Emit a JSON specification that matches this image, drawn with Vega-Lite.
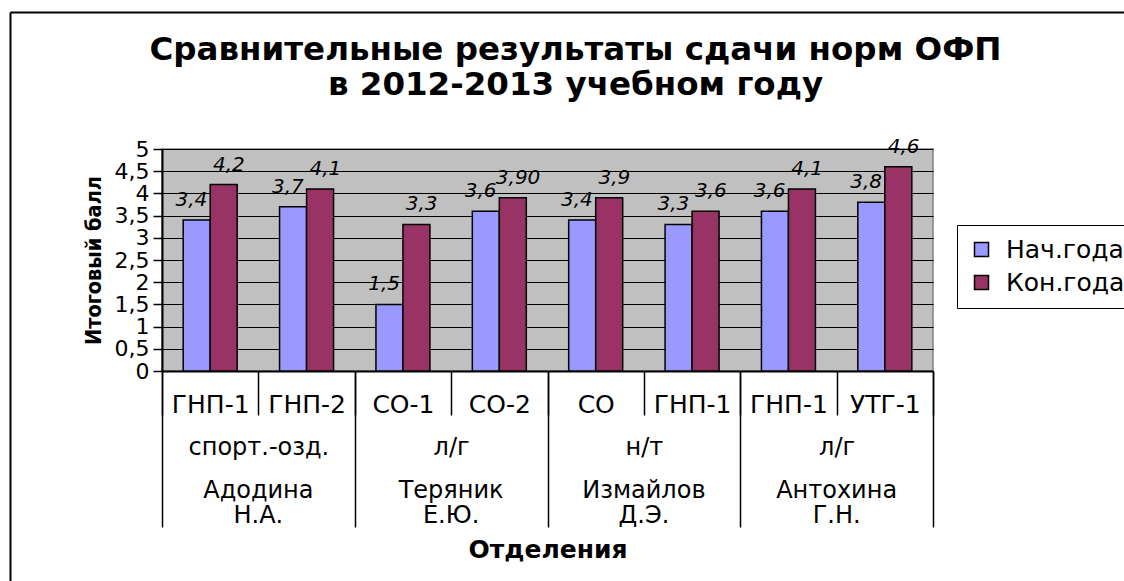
{
  "$schema": "https://vega.github.io/schema/vega-lite/v6.json",
  "usermeta": {"embedOptions": {"actions": false}},
  "width": 771,
  "height": 222,
  "autosize": "none",
  "padding": {"left": 162, "top": 149, "right": 191, "bottom": 210},
  "background": "white",
  "config": {
    "view": {"fill": "#C0C0C0", "stroke": "#808080", "strokeWidth": 1.5}
  },
  "title": {
    "text": ["Сравнительные результаты сдачи норм ОФП", "в 2012-2013 учебном году"],
    "font": "DejaVu Sans",
    "fontSize": 32.5,
    "fontWeight": "bold",
    "color": "black",
    "anchor": "middle",
    "dx": 28,
    "dy": 93,
    "lineHeight": 35
  },
  "data": {
    "values": [
      {"cat": "Адодина|ГНП-1", "dept": "1|спорт.-озд.", "teacher": "Адодина|Н.А.", "series": "Нач.года", "value": 3.4, "label": "3,4"},
      {"cat": "Адодина|ГНП-1", "dept": "1|спорт.-озд.", "teacher": "Адодина|Н.А.", "series": "Кон.года", "value": 4.2, "label": "4,2"},
      {"cat": "Адодина|ГНП-2", "dept": "1|спорт.-озд.", "teacher": "Адодина|Н.А.", "series": "Нач.года", "value": 3.7, "label": "3,7"},
      {"cat": "Адодина|ГНП-2", "dept": "1|спорт.-озд.", "teacher": "Адодина|Н.А.", "series": "Кон.года", "value": 4.1, "label": "4,1"},
      {"cat": "Теряник|СО-1", "dept": "2|л/г", "teacher": "Теряник|Е.Ю.", "series": "Нач.года", "value": 1.5, "label": "1,5"},
      {"cat": "Теряник|СО-1", "dept": "2|л/г", "teacher": "Теряник|Е.Ю.", "series": "Кон.года", "value": 3.3, "label": "3,3"},
      {"cat": "Теряник|СО-2", "dept": "2|л/г", "teacher": "Теряник|Е.Ю.", "series": "Нач.года", "value": 3.6, "label": "3,6"},
      {"cat": "Теряник|СО-2", "dept": "2|л/г", "teacher": "Теряник|Е.Ю.", "series": "Кон.года", "value": 3.9, "label": "3,90"},
      {"cat": "Измайлов|СО", "dept": "3|н/т", "teacher": "Измайлов|Д.Э.", "series": "Нач.года", "value": 3.4, "label": "3,4"},
      {"cat": "Измайлов|СО", "dept": "3|н/т", "teacher": "Измайлов|Д.Э.", "series": "Кон.года", "value": 3.9, "label": "3,9"},
      {"cat": "Измайлов|ГНП-1", "dept": "3|н/т", "teacher": "Измайлов|Д.Э.", "series": "Нач.года", "value": 3.3, "label": "3,3"},
      {"cat": "Измайлов|ГНП-1", "dept": "3|н/т", "teacher": "Измайлов|Д.Э.", "series": "Кон.года", "value": 3.6, "label": "3,6"},
      {"cat": "Антохина|ГНП-1", "dept": "4|л/г", "teacher": "Антохина|Г.Н.", "series": "Нач.года", "value": 3.6, "label": "3,6"},
      {"cat": "Антохина|ГНП-1", "dept": "4|л/г", "teacher": "Антохина|Г.Н.", "series": "Кон.года", "value": 4.1, "label": "4,1"},
      {"cat": "Антохина|УТГ-1", "dept": "4|л/г", "teacher": "Антохина|Г.Н.", "series": "Нач.года", "value": 3.8, "label": "3,8"},
      {"cat": "Антохина|УТГ-1", "dept": "4|л/г", "teacher": "Антохина|Г.Н.", "series": "Кон.года", "value": 4.6, "label": "4,6"}
    ]
  },
  "layer": [
    {
      "mark": {"type": "bar", "stroke": "black", "strokeWidth": 1.5},
      "encoding": {
        "x": {
          "field": "cat", "type": "nominal", "sort": null,
          "scale": {"type": "band", "paddingInner": 0, "paddingOuter": 0},
          "axis": {
            "orient": "bottom",
            "title": null,
            "labelExpr": "datum.value ? split(datum.value, '|')[1] : ''",
            "labelFont": "DejaVu Sans",
            "labelFontSize": 25,
            "labelColor": "black",
            "labelAngle": 0,
            "labelPadding": -23,
            "labelOverlap": false,
            "labelLimit": 300,
            "domainColor": "black",
            "domainWidth": 2,
            "ticks": true,
            "tickBand": "extent",
            "tickSize": 44,
            "tickColor": "black",
            "tickWidth": 1.5,
            "grid": false
          }
        },
        "xOffset": {
          "field": "series", "type": "nominal", "sort": ["Нач.года", "Кон.года"],
          "scale": {"paddingInner": 0, "paddingOuter": 0.785}
        },
        "y": {
          "field": "value", "type": "quantitative",
          "scale": {"domain": [0, 5], "nice": false},
          "axis": {
            "values": [0, 0.5, 1, 1.5, 2, 2.5, 3, 3.5, 4, 4.5, 5],
            "labelOverlap": false,
            "labelExpr": "replace(format(datum.value, '~g'), '.', ',')",
            "labelFont": "DejaVu Sans",
            "labelFontSize": 22,
            "labelColor": "black",
            "labelPadding": 4,
            "tickSize": 9,
            "tickColor": "black",
            "tickWidth": 1.5,
            "domainColor": "black",
            "domainWidth": 2,
            "grid": true,
            "gridColor": "black",
            "gridWidth": 1.2,
            "title": "Итоговый балл",
            "titleFont": "Liberation Sans Narrow, DejaVu Sans Condensed, Liberation Sans",
            "titleFontSize": 21.5,
            "titleFontWeight": "bold",
            "titleColor": "black",
            "titlePadding": 9
          }
        },
        "color": {
          "field": "series", "type": "nominal", "sort": ["Нач.года", "Кон.года"],
          "scale": {"domain": ["Нач.года", "Кон.года"], "range": ["#9999FF", "#993366"]},
          "legend": {
            "title": null,
            "orient": "none",
            "legendX": 795,
            "legendY": 76,
            "strokeColor": "black",
            "padding": 12,
            "rowPadding": 7,
            "symbolType": "square",
            "symbolSize": 196,
            "symbolStrokeColor": "black",
            "symbolStrokeWidth": 1.5,
            "labelFont": "DejaVu Sans",
            "labelFontSize": 25,
            "labelColor": "black",
            "labelOffset": 12,
            "labelLimit": 300
          }
        }
      }
    },
    {
      "mark": {"type": "text", "font": "DejaVu Sans", "fontStyle": "italic", "fontSize": 20, "color": "black", "baseline": "alphabetic", "dy": -14},
      "encoding": {
        "x": {"field": "cat", "type": "nominal", "sort": null, "scale": {"type": "band", "paddingInner": 0, "paddingOuter": 0}, "axis": null},
        "xOffset": {"field": "series", "type": "nominal", "sort": ["Нач.года", "Кон.года"], "scale": {"paddingInner": 0, "paddingOuter": 0.785}},
        "y": {"field": "value", "type": "quantitative", "scale": {"domain": [0, 5], "nice": false}, "axis": null},
        "text": {"field": "label"}
      }
    },
    {
      "mark": {"type": "point", "opacity": 0},
      "encoding": {
        "x": {
          "field": "dept", "type": "nominal", "sort": null,
          "scale": {"type": "band", "paddingInner": 0, "paddingOuter": 0},
          "axis": {
            "orient": "bottom",
            "domain": false,
            "grid": false,
            "ticks": true,
            "tickBand": "extent",
            "tickSize": 156,
            "tickColor": "black",
            "tickWidth": 1.5,
            "labelExpr": "datum.value ? split(datum.value, '|')[1] : ''",
            "labelFont": "DejaVu Sans",
            "labelFontSize": 24,
            "labelColor": "black",
            "labelAngle": 0,
            "labelPadding": -92,
            "labelOverlap": false,
            "labelLimit": 300,
            "title": null
          }
        }
      }
    },
    {
      "mark": {"type": "point", "opacity": 0},
      "encoding": {
        "x": {
          "field": "teacher", "type": "nominal", "sort": null,
          "scale": {"type": "band", "paddingInner": 0, "paddingOuter": 0},
          "axis": {
            "orient": "bottom",
            "domain": false,
            "grid": false,
            "ticks": false,
            "tickSize": 0,
            "labelExpr": "datum.value ? split(datum.value, '|') : ''",
            "labelFont": "DejaVu Sans",
            "labelFontSize": 24,
            "labelColor": "black",
            "labelLineHeight": 25,
            "labelAngle": 0,
            "labelPadding": 107,
            "labelOverlap": false,
            "labelLimit": 300,
            "title": "Отделения",
            "titleFont": "DejaVu Sans",
            "titleFontSize": 25,
            "titleFontWeight": "bold",
            "titleColor": "black",
            "titlePadding": 10
          }
        }
      }
    },
    {
      "mark": {"type": "point", "opacity": 0},
      "encoding": {
        "x": {
          "datum": 0, "type": "quantitative",
          "scale": {"domain": [0, 1], "range": [-152, 962]},
          "axis": {"orient": "top", "offset": 137, "domain": true, "domainColor": "black", "domainWidth": 2, "ticks": false, "labels": false, "grid": false, "title": null, "values": []}
        },
        "y": {
          "datum": 0, "type": "quantitative",
          "scale": {"domain": [0, 1], "range": [450, -137]},
          "axis": {"orient": "left", "offset": 152, "domain": true, "domainColor": "black", "domainWidth": 2, "ticks": false, "labels": false, "grid": false, "title": null, "values": []}
        }
      }
    }
  ],
  "resolve": {"scale": {"x": "independent", "y": "independent", "xOffset": "independent"}}
}
